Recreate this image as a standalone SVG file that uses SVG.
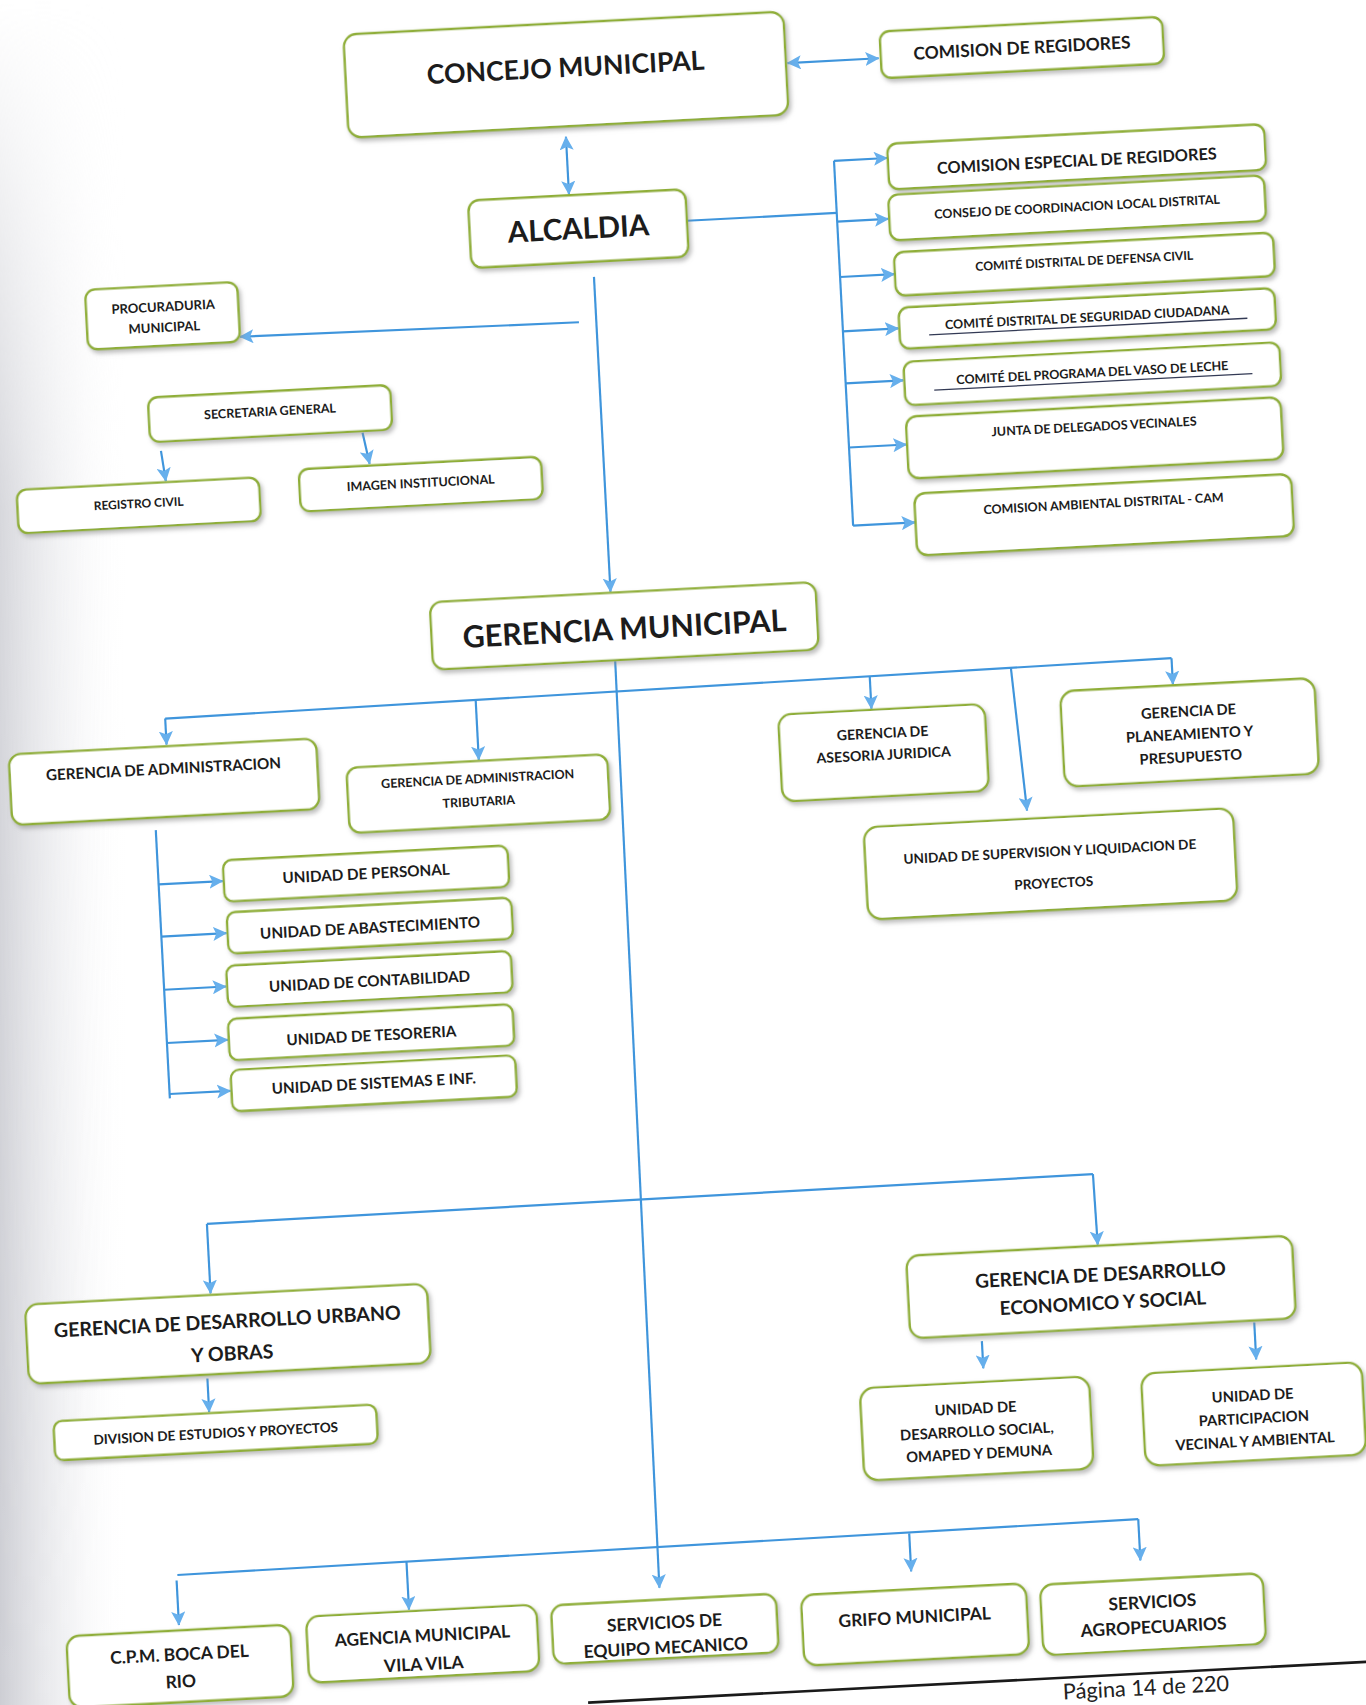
<svg xmlns="http://www.w3.org/2000/svg" width="1366" height="1705" viewBox="0 0 1366 1705">
<defs>
<linearGradient id="edge" x1="0" y1="0" x2="1" y2="0">
<stop offset="0" stop-color="#c4c5cc" stop-opacity="0.85"/>
<stop offset="0.5" stop-color="#dcdde2" stop-opacity="0.4"/>
<stop offset="1" stop-color="#ffffff" stop-opacity="0"/>
</linearGradient>
<linearGradient id="fadev" x1="0" y1="0" x2="0" y2="1">
<stop offset="0" stop-color="#ffffff" stop-opacity="0"/>
<stop offset="0.3" stop-color="#ffffff" stop-opacity="0.8"/>
<stop offset="1" stop-color="#ffffff" stop-opacity="1"/>
</linearGradient>
<mask id="edgemask"><rect x="0" y="0" width="140" height="1705" fill="url(#fadev)"/></mask>
<filter id="sh" x="-10%" y="-20%" width="130%" height="160%">
<feDropShadow dx="2" dy="3" stdDeviation="2" flood-color="#8a8a8a" flood-opacity="0.55"/>
</filter>
<marker id="ah" viewBox="0 0 10 10" refX="9.5" refY="5" markerWidth="13" markerHeight="13" markerUnits="userSpaceOnUse" orient="auto-start-reverse">
<path d="M0,0 L10,5 L0,10 L2.2,5 Z" fill="#66afec"/>
</marker>
<style>
.box{fill:#ffffff;stroke:#8fae37;stroke-width:2.2;filter:url(#sh)}
.t{font-family:Lato,"Open Sans","Liberation Sans",sans-serif;font-weight:700;fill:#1c1c1c;text-anchor:middle}
.c{fill:none;stroke:#3f95dc;stroke-width:2}
.a{marker-end:url(#ah)}
.d{marker-start:url(#ah);marker-end:url(#ah)}
.ul{stroke:#333a55;stroke-width:1.2}
</style>
</defs>
<rect x="0" y="0" width="1366" height="1705" fill="#ffffff"/>
<rect x="0" y="0" width="130" height="1705" fill="url(#edge)" mask="url(#edgemask)"/>
<g transform="scale(1.0875) rotate(-3 628 784)">
<g id="connectors">
<path class="c d" d="M762,64 L846,64"/>
<path class="c d" d="M555,121 L555,174"/>
<path class="c" d="M662,204 L800,204"/>
<path class="c" d="M800,156 L800,492"/>
<path class="c a" d="M800,156 L849,156"/>
<path class="c a" d="M800,212 L847,212"/>
<path class="c a" d="M800,263 L850,263"/>
<path class="c a" d="M800,313 L851,313"/>
<path class="c a" d="M800,361 L853,361"/>
<path class="c a" d="M800,420 L853,420"/>
<path class="c a" d="M800,492 L857,492"/>
<path class="c a" d="M558,292 L246,289"/>
<path class="c a" d="M574,251 L574,541"/>
<path class="c a" d="M168,390 L171,418"/>
<path class="c a" d="M354,383 L359,412"/>
<path class="c a" d="M575,605 L571,1458"/>
<path class="c" d="M159,636 L1086,629"/>
<path class="c a" d="M159,636 L159,660"/>
<path class="c a" d="M445,634 L445,689"/>
<path class="c a" d="M808,631 L808,661"/>
<path class="c a" d="M1086,629 L1086,653"/>
<path class="c a" d="M938,630 L946,762"/>
<path class="c" d="M145,738 L145,985"/>
<path class="c a" d="M145,788 L204,788"/>
<path class="c a" d="M145,836 L205,836"/>
<path class="c a" d="M145,885 L202,885"/>
<path class="c a" d="M145,934 L201,934"/>
<path class="c a" d="M145,981 L201,981"/>
<path class="c" d="M173,1102 L989,1099"/>
<path class="c a" d="M173,1102 L173,1166"/>
<path class="c a" d="M989,1099 L990,1164"/>
<path class="c a" d="M166,1244 L166,1275"/>
<path class="c a" d="M879,1247 L879,1272"/>
<path class="c a" d="M1130,1243 L1130,1277"/>
<path class="c" d="M129,1423 L1014,1418"/>
<path class="c a" d="M128,1428 L128,1469"/>
<path class="c a" d="M340,1422 L340,1466"/>
<path class="c a" d="M803,1420 L803,1455"/>
<path class="c a" d="M1014,1418 L1014,1456"/>
</g>
<g id="concejo-municipal"><rect class="box" x="355.5" y="16.5" width="405" height="95" rx="12"/><text class="t" x="558" y="66" font-size="24.5">CONCEJO MUNICIPAL</text></g>
<g id="comision-regidores"><rect class="box" x="848" y="39.5" width="260" height="43" rx="9"/><text class="t" x="978" y="67" font-size="16">COMISION DE REGIDORES</text></g>
<g id="alcaldia"><rect class="box" x="462" y="175" width="200" height="62" rx="10"/><text class="t" x="562" y="215.5" font-size="27">ALCALDIA</text></g>
<g id="comision-especial"><rect class="box" x="849.5" y="143" width="347" height="42" rx="9"/><text class="t" x="1023" y="173" font-size="15">COMISION ESPECIAL DE REGIDORES</text></g>
<g id="consejo-coordinacion"><rect class="box" x="848" y="190" width="346" height="42" rx="9"/><text class="t" x="1021" y="214" font-size="11.5">CONSEJO DE COORDINACION LOCAL DISTRITAL</text></g>
<g id="defensa-civil"><rect class="box" x="850.5" y="243" width="349" height="40" rx="9"/><text class="t" x="1025" y="264" font-size="11.2">COMITÉ DISTRITAL DE DEFENSA CIVIL</text></g>
<g id="seguridad-ciudadana"><rect class="box" x="852" y="294" width="346" height="38" rx="9"/><text class="t" x="1025" y="316" font-size="11.5">COMITÉ DISTRITAL DE SEGURIDAD CIUDADANA</text><line class="ul" x1="879" y1="320.5" x2="1172" y2="320.5"/></g>
<g id="vaso-de-leche"><rect class="box" x="854" y="344" width="346" height="40" rx="9"/><text class="t" x="1027" y="367" font-size="11.5">COMITÉ DEL PROGRAMA DEL VASO DE LECHE</text><line class="ul" x1="881" y1="371.5" x2="1174" y2="371.5"/></g>
<g id="junta-delegados"><rect class="box" x="853.5" y="394.5" width="345" height="57" rx="10"/><text class="t" x="1026" y="416.5" font-size="11.5">JUNTA DE DELEGADOS VECINALES</text></g>
<g id="comision-ambiental"><rect class="box" x="857.5" y="465.5" width="347" height="57" rx="10"/><text class="t" x="1031" y="487.7" font-size="11.5">COMISION AMBIENTAL DISTRITAL - CAM</text></g>
<g id="procuraduria"><rect class="box" x="106" y="238.5" width="140" height="55" rx="9"/><text class="t" x="177" y="262" font-size="12">PROCURADURIA</text><text class="t" x="177" y="281" font-size="12">MUNICIPAL</text></g>
<g id="secretaria-general"><rect class="box" x="158.5" y="340.5" width="223" height="41" rx="9"/><text class="t" x="270" y="363" font-size="11.5">SECRETARIA GENERAL</text></g>
<g id="registro-civil"><rect class="box" x="33.5" y="419" width="223" height="40" rx="9"/><text class="t" x="145" y="441.3" font-size="11">REGISTRO CIVIL</text></g>
<g id="imagen-institucional"><rect class="box" x="293.5" y="413.5" width="223" height="39" rx="9"/><text class="t" x="405" y="436" font-size="11.5">IMAGEN INSTITUCIONAL</text></g>
<g id="gerencia-municipal"><rect class="box" x="407.5" y="542" width="355" height="62" rx="11"/><text class="t" x="585" y="585.5" font-size="28">GERENCIA MUNICIPAL</text></g>
<g id="gerencia-administracion"><rect class="box" x="13.5" y="661.5" width="283" height="65" rx="11"/><text class="t" x="155" y="687.2" font-size="14">GERENCIA DE ADMINISTRACION</text></g>
<g id="gerencia-tributaria"><rect class="box" x="323" y="690" width="240" height="60" rx="10"/><text class="t" x="443" y="710.4" font-size="11.5">GERENCIA DE ADMINISTRACION</text><text class="t" x="443" y="731.4" font-size="11.5">TRIBUTARIA</text></g>
<g id="unidad-personal"><rect class="box" x="205" y="769" width="262" height="38" rx="8"/><text class="t" x="336" y="793" font-size="14">UNIDAD DE PERSONAL</text></g>
<g id="unidad-abastecimiento"><rect class="box" x="206" y="817" width="262" height="38" rx="8"/><text class="t" x="337" y="843" font-size="14">UNIDAD DE ABASTECIMIENTO</text></g>
<g id="unidad-contabilidad"><rect class="box" x="203" y="866" width="262" height="38" rx="8"/><text class="t" x="334" y="892" font-size="14">UNIDAD DE CONTABILIDAD</text></g>
<g id="unidad-tesoreria"><rect class="box" x="202" y="915" width="262" height="38" rx="8"/><text class="t" x="333" y="942" font-size="14">UNIDAD DE TESORERIA</text></g>
<g id="unidad-sistemas"><rect class="box" x="202" y="962" width="262" height="38" rx="8"/><text class="t" x="333" y="986" font-size="14">UNIDAD DE SISTEMAS E INF.</text></g>
<g id="asesoria-juridica"><rect class="box" x="722" y="662" width="190" height="80" rx="12"/><text class="t" x="817" y="688.5" font-size="13">GERENCIA DE</text><text class="t" x="817" y="708.5" font-size="13">ASESORIA JURIDICA</text></g>
<g id="planeamiento-presupuesto"><rect class="box" x="982" y="654" width="234" height="88" rx="13"/><text class="t" x="1099" y="683.4" font-size="13.5">GERENCIA DE</text><text class="t" x="1099" y="704.4" font-size="13.5">PLANEAMIENTO Y</text><text class="t" x="1099" y="725.4" font-size="13.5">PRESUPUESTO</text></g>
<g id="supervision-liquidacion"><rect class="box" x="795" y="769.5" width="340" height="85" rx="13"/><text class="t" x="965" y="805.2" font-size="12.5">UNIDAD DE SUPERVISION Y LIQUIDACION DE</text><text class="t" x="967" y="834.3" font-size="12.5">PROYECTOS</text></g>
<g id="desarrollo-urbano"><rect class="box" x="2" y="1167.5" width="370" height="73" rx="12"/><text class="t" x="187" y="1199" font-size="18">GERENCIA DE DESARROLLO URBANO</text><text class="t" x="190" y="1228.5" font-size="18">Y OBRAS</text></g>
<g id="division-estudios"><rect class="box" x="22.5" y="1276" width="297" height="36" rx="8"/><text class="t" x="171" y="1299.3" font-size="12.5">DIVISION DE ESTUDIOS Y PROYECTOS</text></g>
<g id="desarrollo-economico"><rect class="box" x="813.5" y="1165" width="355" height="76" rx="12"/><text class="t" x="991" y="1197.9" font-size="17.5">GERENCIA DE DESARROLLO</text><text class="t" x="992" y="1223.9" font-size="17.5">ECONOMICO Y SOCIAL</text></g>
<g id="desarrollo-social"><rect class="box" x="764.5" y="1284.5" width="211" height="85" rx="13"/><text class="t" x="870" y="1313.3" font-size="13.5">UNIDAD DE</text><text class="t" x="870" y="1334.3" font-size="13.5">DESARROLLO SOCIAL,</text><text class="t" x="871" y="1354.9" font-size="13.5">OMAPED Y DEMUNA</text></g>
<g id="participacion-vecinal"><rect class="box" x="1023.5" y="1284.5" width="203" height="85" rx="13"/><text class="t" x="1125" y="1314.7" font-size="13.5">UNIDAD DE</text><text class="t" x="1125" y="1335.7" font-size="13.5">PARTICIPACION</text><text class="t" x="1125" y="1356.7" font-size="13.5">VECINAL Y AMBIENTAL</text></g>
<g id="cpm-boca-del-rio"><rect class="box" x="24" y="1474" width="206" height="66" rx="12"/><text class="t" x="127" y="1501.6" font-size="16">C.P.M. BOCA DEL</text><text class="t" x="127" y="1526.6" font-size="16">RIO</text></g>
<g id="agencia-vila-vila"><rect class="box" x="245" y="1467.5" width="212" height="61" rx="12"/><text class="t" x="351" y="1496.3" font-size="16">AGENCIA MUNICIPAL</text><text class="t" x="351" y="1522.3" font-size="16">VILA VILA</text></g>
<g id="equipo-mecanico"><rect class="box" x="470.5" y="1469" width="207" height="54" rx="11"/><text class="t" x="574" y="1495.8" font-size="16">SERVICIOS DE</text><text class="t" x="574" y="1518.8" font-size="16">EQUIPO MECANICO</text></g>
<g id="grifo-municipal"><rect class="box" x="700.5" y="1471.5" width="207" height="65" rx="12"/><text class="t" x="804" y="1502.8" font-size="16">GRIFO MUNICIPAL</text></g>
<g id="servicios-agropecuarios"><rect class="box" x="920.5" y="1473.5" width="205" height="65" rx="12"/><text class="t" x="1023" y="1500.4" font-size="16">SERVICIOS</text><text class="t" x="1023" y="1523.4" font-size="16">AGROPECUARIOS</text></g>
<g id="footer">
<line x1="500" y1="1560" x2="1330" y2="1560" stroke="#1a1a1a" stroke-width="2.4"/>
<text x="1013" y="1580" font-size="20" font-family="Lato,'Open Sans','Liberation Sans',sans-serif" fill="#222" text-anchor="middle">Página 14 de 220</text>
</g>
</g>
</svg>
